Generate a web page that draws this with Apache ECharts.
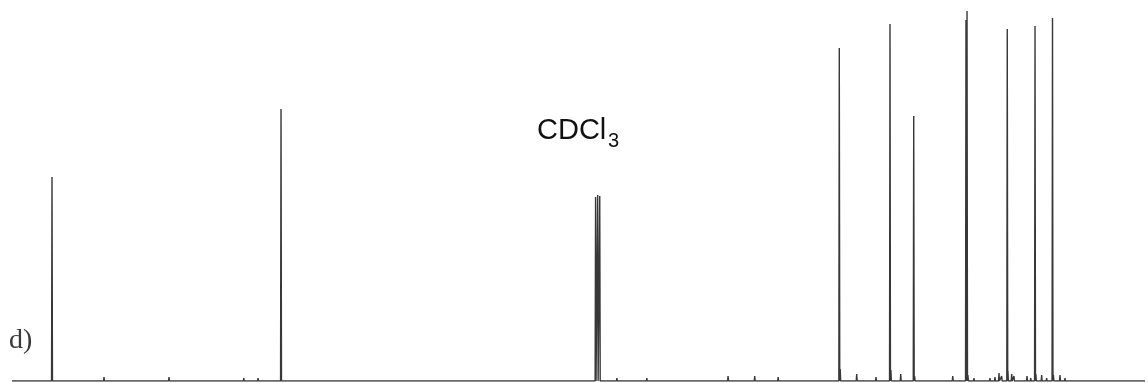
<!DOCTYPE html>
<html>
<head>
<meta charset="utf-8">
<script src="https://cdn.jsdelivr.net/npm/echarts@6/dist/echarts.min.js"></script>
<style>
html,body{margin:0;padding:0;background:#fff;}
#chart{width:1148px;height:383px;}
</style>
</head>
<body>
<div id="chart"></div>
<script>
// Chemical shifts (ppm) and intensities (arbitrary units)
var peakPpm     = [161.1, 125.87, 39.99, 32.19, 28.54, 20.50, 20.34, 14.15, 9.88, 7.19];
var peakHeight  = [204,   272,    333,   357,   265,   361,   370,   352,   355,  363];
var solventPpm    = [77.48, 77.16, 76.84];
var solventHeight = [184,   186,   185];
var minorPpm    = [153.1, 143.1, 131.6, 129.4, 116.3, 104.8, 74.2, 69.6, 57.1, 53.0, 49.4,
                   40.96, 39.85, 38.65, 37.31, 34.34, 32.05, 30.54, 28.4, 22.54, 20.2, 19.27, 16.81, 16.04,
                   15.42, 15.01, 14.05, 13.47, 13.12, 11.11, 10.54, 9.75, 8.86, 8.09, 7.05, 6.04, 5.27];
var minorHeight = [4, 4, 3, 3, 2, 2, 3, 3, 5, 5, 4,
                   2, 12, 2, 7, 4, 11, 7, 5, 5, 6, 3, 3, 4,
                   8, 5, 10, 7, 5, 5, 3, 7, 6, 3, 6, 6, 3];
var spectrumStart = 167.25, spectrumEnd = -7.05;
var solventLabel = 'CDCl', solventSub = '3', panelLabel = 'd)';

var allPeaks = [];
peakPpm.forEach(function(p,i){ allPeaks.push([p, peakHeight[i]]); });
solventPpm.forEach(function(p,i){ allPeaks.push([p, solventHeight[i]]); });
minorPpm.forEach(function(p,i){ allPeaks.push([p, minorHeight[i]]); });
allPeaks.sort(function(a,b){ return b[0]-a[0]; });
var halfWidth = 0.07;
var line = [[spectrumStart, 0]];
allPeaks.forEach(function(pk){
  line.push([pk[0]+halfWidth, 0]);
  line.push([pk[0], pk[1]]);
  line.push([pk[0]-halfWidth, 0]);
});
line.push([spectrumEnd, 0]);

var chart = echarts.init(document.getElementById('chart'));
chart.setOption({
  animation: false,
  backgroundColor: '#ffffff',
  grid: {left: 0, right: 0, top: 0, bottom: 2},
  xAxis: {type: 'value', inverse: true, min: -7.5, max: 169.1, show: false},
  yAxis: {type: 'value', min: 0, max: 381, show: false},
  series: [{
    type: 'line',
    data: line,
    symbol: 'none',
    lineStyle: {color: '#383838', width: 1.4},
    silent: true
  }],
  graphic: [
    {type: 'text', left: 537, top: 116,
     style: {text: solventLabel, font: '29px "Liberation Sans", Arial, sans-serif', fill: '#111111'}},
    {type: 'text', left: 608, top: 131,
     style: {text: solventSub, font: '20px "Liberation Sans", Arial, sans-serif', fill: '#111111'}},
    {type: 'text', left: 9, top: 327,
     style: {text: panelLabel, font: '28px "Liberation Serif", "Times New Roman", serif', fill: '#3a3a3a'}}
  ]
});
</script>
</body>
</html>
